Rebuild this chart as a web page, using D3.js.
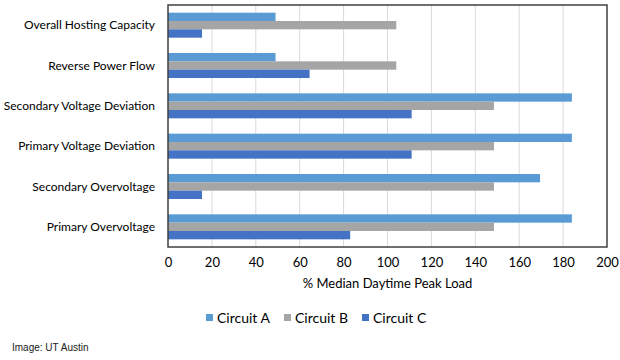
<!DOCTYPE html>
<html lang="en">
<head>
    <meta charset="UTF-8">
    <script src="https://d3js.org/d3.v7.min.js"></script>
    <style>
        body { margin: 0; background: #fff; }
        .cat-label { font: 12px Lato, sans-serif; fill: #000; }
        .tick text { font: 13px Lato, sans-serif; fill: #000; }
        .axis-title { font: 13px Lato, sans-serif; fill: #000; text-anchor: middle; }
        .legend-text { font: 14px Lato, sans-serif; fill: #000; }
        .source { font: 10px "Liberation Sans", Arial, sans-serif; fill: #222; }
    </style>
</head>
<body>
<div id="chart"></div>
<script>
// Data
const categories = [
    "Overall Hosting Capacity",
    "Reverse Power Flow",
    "Secondary Voltage Deviation",
    "Primary Voltage Deviation",
    "Secondary Overvoltage",
    "Primary Overvoltage"
];
const seriesNames = ["Circuit A", "Circuit B", "Circuit C"];
const circuitA = [49, 49, 184, 184, 169.5, 184];
const circuitB = [104, 104, 148.5, 148.5, 148.5, 148.5];
const circuitC = [15.5, 64.5, 111, 111, 15.5, 83];
const xTicks = [0, 20, 40, 60, 80, 100, 120, 140, 160, 180, 200];
const colors = ["#5b9bd5", "#a5a5a5", "#4472c4"];

const series = [circuitA, circuitB, circuitC];

// Dimensions
const width = 620, height = 360;
const plot = { left: 168, right: 607, top: 5, bottom: 247 };

const svg = d3.select("#chart").append("svg")
    .attr("width", width)
    .attr("height", height);

// Scales
const xScale = d3.scaleLinear()
    .domain([0, 200])
    .range([plot.left, plot.right]);

const yScale = d3.scaleBand()
    .domain(categories)
    .range([plot.top, plot.bottom])
    .paddingInner(0.38)
    .paddingOuter(0.19);

const ySub = d3.scaleBand()
    .domain(seriesNames)
    .range([0, yScale.bandwidth()]);

// Gridlines
svg.append("g")
    .selectAll("line")
    .data(xTicks.filter(d => d > 0 && d < 200))
    .join("line")
    .attr("x1", d => xScale(d)).attr("x2", d => xScale(d))
    .attr("y1", plot.top).attr("y2", plot.bottom)
    .attr("stroke", "#d9d9d9")
    .attr("stroke-width", 1);

// Bars
categories.forEach((cat, i) => {
    seriesNames.forEach((s, j) => {
        svg.append("rect")
            .attr("x", xScale(0))
            .attr("y", yScale(cat) + ySub(s))
            .attr("width", xScale(series[j][i]) - xScale(0))
            .attr("height", ySub.bandwidth())
            .attr("fill", colors[j]);
    });
});

// Plot border
svg.append("rect")
    .attr("x", plot.left)
    .attr("y", plot.top)
    .attr("width", plot.right - plot.left)
    .attr("height", plot.bottom - plot.top)
    .attr("fill", "none")
    .attr("stroke", "#404040")
    .attr("stroke-width", 1.5);

// Category labels
svg.append("g")
    .selectAll("text")
    .data(categories)
    .join("text")
    .attr("class", "cat-label")
    .attr("x", 155)
    .attr("y", d => yScale(d) + yScale.bandwidth() / 2)
    .attr("dy", "0.35em")
    .attr("text-anchor", "end")
    .text(d => d);

// X axis
const xAxis = d3.axisBottom(xScale).tickValues(xTicks).tickSize(0).tickPadding(11);
const gx = svg.append("g")
    .attr("transform", `translate(0, ${plot.bottom})`)
    .call(xAxis);
gx.select(".domain").remove();

svg.append("text")
    .attr("class", "axis-title")
    .attr("x", (plot.left + plot.right) / 2)
    .attr("y", 288)
    .text("% Median Daytime Peak Load");

// Legend
const legendX = [206, 284, 362];
const legend = svg.append("g");
seriesNames.forEach((s, j) => {
    legend.append("rect")
        .attr("x", legendX[j])
        .attr("y", 314)
        .attr("width", 7)
        .attr("height", 7)
        .attr("fill", colors[j]);
    legend.append("text")
        .attr("class", "legend-text")
        .attr("x", legendX[j] + 11)
        .attr("y", 322.5)
        .text(s);
});

// Source
svg.append("text")
    .attr("class", "source")
    .attr("x", 12)
    .attr("y", 351)
    .text("Image: UT Austin");
</script>
</body>
</html>
